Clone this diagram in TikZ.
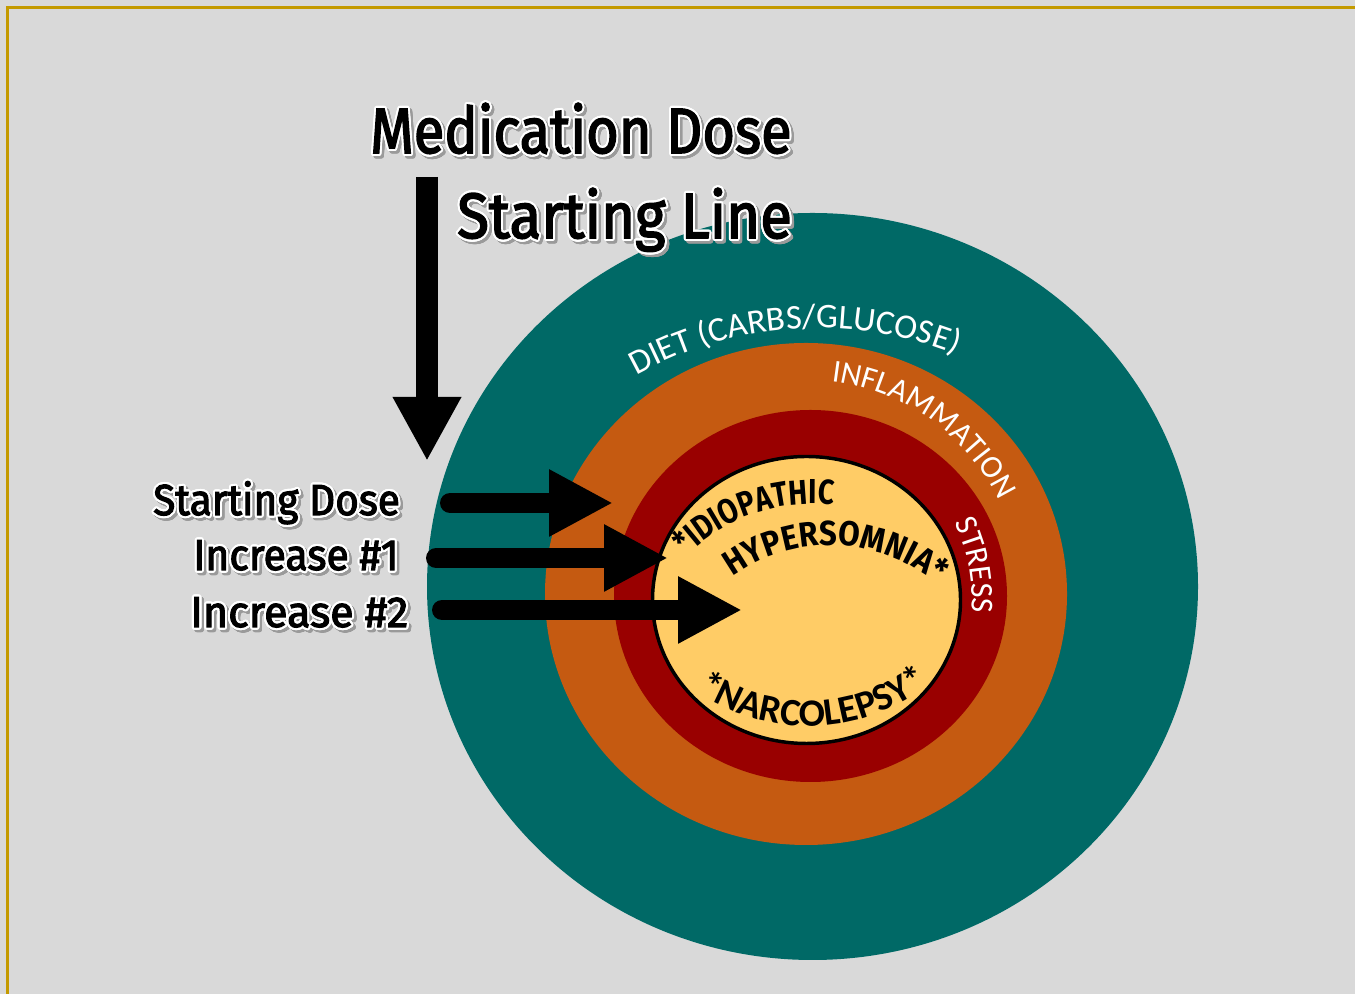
\documentclass[tikz,border=0pt]{standalone}
\usepackage{fontspec}
\usepackage{contour}
\usepackage{graphicx}
\usetikzlibrary{arrows.meta,decorations.text}
\newfontfamily\carlito{Carlito}
\newfontfamily\handfont[FakeStretch=0.82]{Fira Sans}
\newfontfamily\handfontw[FakeStretch=0.9]{Fira Sans}
\newfontfamily\headfont[FakeBold=2.6]{Fira Sans}
\definecolor{bgc}{HTML}{D9D9D9}
\definecolor{bordc}{HTML}{C49A00}
\definecolor{tealc}{HTML}{006966}
\definecolor{orangec}{HTML}{C55A11}
\definecolor{redc}{HTML}{990000}
\definecolor{yellowc}{HTML}{FFCC66}
\definecolor{shadowc}{HTML}{9A9A9A}
\contourlength{1.6pt}
\contournumber{24}
\newcommand\dietfont{\carlito\fontsize{26pt}{26pt}\selectfont}
\newcommand\ringfont{\carlito\fontsize{24pt}{24pt}\selectfont}
\newcommand\narcfont{\carlito\bfseries\fontsize{29pt}{29pt}\selectfont}
\newcommand\hwfont{\handfont\bfseries\fontsize{26pt}{26pt}\selectfont}
\newcommand\hwfontw{\handfontw\bfseries\fontsize{26pt}{26pt}\selectfont}
\newcommand\bigfont{\headfont\fontsize{48pt}{48pt}\selectfont}
\newcommand\smallfont{\headfont\fontsize{32.5pt}{32.5pt}\selectfont}
\newcommand\headtxt[3]{\resizebox{#2}{\height}{\contour{white}{#1#3}}}
\newcommand\shadtxt[3]{\resizebox{#2}{\height}{\color{shadowc}\contour{shadowc}{#1#3}}}
\begin{document}
\begin{tikzpicture}[x=0.75pt,y=0.75pt,
  headlbl/.style={inner sep=0pt, anchor=base west},
  bigarrow/.style={line width=15pt, line cap=round, -{Triangle[width=47pt,length=48pt]}},
  downarrow/.style={line width=16.5pt, -{Triangle[width=48pt,length=48pt]}},
  diettext/.style={decorate, decoration={text along path, text align=center, text color=white, text={|\dietfont|#1}}},
  ringtext/.style={decorate, decoration={text along path, text align=center, text color=white, text={|\ringfont|#1}}},
  handtext/.style={decorate, decoration={text along path, text align=center, text color=black, text={|\hwfont|#1}}},
  handtextw/.style={decorate, decoration={text along path, text align=center, text color=black, text={|\hwfontw|#1}}},
  narctext/.style={decorate, decoration={text along path, text align=center, text color=black, text={|\narcfont|#1}}}
]
\useasboundingbox (0,0) rectangle (1355,994);
\fill[bgc] (0,0) rectangle (1355,994);
\draw[bordc, line width=2.25pt] (7.5,0) -- (7.5,986.5) -- (1355,986.5);

% rings
\fill[tealc] (812.5,407.5) ellipse [x radius=385.5, y radius=373.5];
\fill[orangec] (806,400) ellipse [x radius=261, y radius=251];
\fill[redc] (810.5,398) ellipse [x radius=196.5, y radius=186];
\draw[line width=2.6pt, fill=yellowc] (806.5,394) ellipse [x radius=154, y radius=143.5];

% ring labels
\path[diettext={DIET (CARBS/GLUCOSE)}] ([shift={(128:372)}]818,294) arc[start angle=128, end angle=59.5, radius=372];
\path[ringtext={INFLAMMATION}] ([shift={(92:214)}]806,400) arc[start angle=92, end angle=17, radius=214];
\path[ringtext={STRESS}] ([shift={(40:162)}]810,398) arc[start angle=40, end angle=-19, radius=162];

% arrows
\coordinate (dA) at (427,817);
\coordinate (dB) at (427,533);
\draw[downarrow] (dA) -- (dB);
\coordinate (a1s) at (450,491);
\coordinate (a1e) at (613,491);
\coordinate (a2s) at (436,436);
\coordinate (a2e) at (668,436);
\coordinate (a3s) at (442,384);
\coordinate (a3e) at (742,384);
\draw[bigarrow] (a1s) -- (a1e);
\draw[bigarrow] (a2s) -- (a2e);
\draw[bigarrow] (a3s) -- (a3e);

% inner labels
\path[handtext={*IDIOPATHIC}] ([shift={(143:177)}]812,313) arc[start angle=143, end angle=75, radius=177];
\path[handtextw={HYPERSOMNIA*}] ([shift={(140:166)}]830,283) arc[start angle=140, end angle=36, radius=166];
\path[narctext={*NARCOLEPSY*}] ([shift={(228:197)}]808,465) arc[start angle=228, end angle=315.5, radius=197];

% headings with shadow
\node[headlbl] (medS) at (372.5,838.5) {\shadtxt{\bigfont}{316pt}{Medication Dose}};
\node[headlbl] (med) at (370,841) {\headtxt{\bigfont}{316pt}{Medication Dose}};
\node[headlbl] (lineS) at (459.5,753.5) {\shadtxt{\bigfont}{251pt}{Starting Line}};
\node[headlbl] (line) at (457,756) {\headtxt{\bigfont}{251pt}{Starting Line}};

\node[headlbl] (sdS) at (155.5,476.5) {\shadtxt{\smallfont}{185pt}{Starting Dose}};
\node[headlbl] (sd) at (153,479) {\headtxt{\smallfont}{185pt}{Starting Dose}};
\node[headlbl] (i1S) at (195.5,421.5) {\shadtxt{\smallfont}{154pt}{Increase \#1}};
\node[headlbl] (i1) at (193,424) {\headtxt{\smallfont}{154pt}{Increase \#1}};
\node[headlbl] (i2S) at (192.5,364.5) {\shadtxt{\smallfont}{163.5pt}{Increase \#2}};
\node[headlbl] (i2) at (190,367) {\headtxt{\smallfont}{163.5pt}{Increase \#2}};
\end{tikzpicture}
\end{document}
